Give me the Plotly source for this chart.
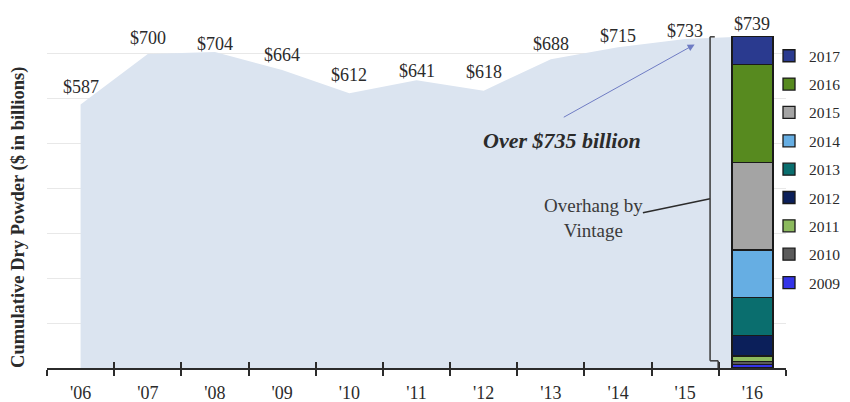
import plotly.graph_objects as go

# ---- data ----
years = ["'06", "'07", "'08", "'09", "'10", "'11", "'12", "'13", "'14", "'15", "'16"]
dry_powder = [587, 700, 704, 664, 612, 641, 618, 688, 715, 733, 739]
value_labels = ["$587", "$700", "$704", "$664", "$612", "$641", "$618", "$688", "$715", "$733", "$739"]

vintages = ["2009", "2010", "2011", "2012", "2013", "2014", "2015", "2016", "2017"]
vintage_values = [8, 7, 12, 45, 85, 106, 195, 219, 62]
vintage_colors = ["#3434e8", "#5a5a5a", "#8cba5e", "#0b1f5a", "#0a6e6e",
                  "#66aee3", "#a4a4a4", "#578a1f", "#2a3a8f"]
label_dy = [18, 16, 8, 15, 18, 9, 19, 15, 11, 8, 12]

FONT = "Liberation Serif"
TXT = "#2b2b2b"

fig = go.Figure()

# area of cumulative dry powder (base subplot)
fig.add_trace(go.Scatter(
    x=years, y=dry_powder, mode="none", fill="tozeroy",
    fillcolor="#dbe4f0", showlegend=False, hoverinfo="skip"))

# stacked vintage bar at the last year (overlaid subplot, drawn above area)
n = len(vintages)
for i, (name, val, col) in enumerate(zip(vintages, vintage_values, vintage_colors)):
    fig.add_trace(go.Bar(
        x=[years[-1]], y=[val], name=name, marker_color=col,
        marker_line=dict(color="#1a1a1a", width=1.3), width=0.61,
        legendgroup=name, legendrank=n - i, xaxis="x2"))

# value labels
for x, v, t, dy in zip(years, dry_powder, value_labels, label_dy):
    fig.add_annotation(x=x, y=v, text=t, showarrow=False, yshift=dy,
                       font=dict(family=FONT, size=18, color=TXT))

# "Over $735 billion" with arrow
fig.add_annotation(x=7.16, y=506, text="<b><i>Over $735 billion</i></b>",
                   showarrow=False, font=dict(family=FONT, size=22, color=TXT))
fig.add_annotation(x=9.14, y=721, ax=7.17, ay=557, axref="x", ayref="y",
                   text="", showarrow=True, arrowhead=2, arrowsize=1.4,
                   arrowwidth=1, arrowcolor="#6f7cc4")

# "Overhang by Vintage"
fig.add_annotation(x=7.63, y=334, text="Overhang by<br>Vintage", showarrow=False,
                   font=dict(family=FONT, size=19, color="#3a3a3a"))
fig.add_shape(type="line", x0=8.37, y0=346, x1=9.37, y1=377,
              line=dict(color="#2b2b2b", width=1.5), layer="above")

# bracket
br = dict(color="#3a3a3a", width=1.5)
fig.add_shape(type="line", x0=9.37, y0=738, x1=9.44, y1=738, line=br)
fig.add_shape(type="line", x0=9.37, y0=738, x1=9.37, y1=16, line=br)
fig.add_shape(type="line", x0=9.37, y0=16, x1=9.49, y1=16, line=br)
fig.add_shape(type="line", x0=9.49, y0=16, x1=9.49, y1=0, line=br)

# y-axis title
fig.add_annotation(xref="paper", yref="paper", x=0, y=0.418, xshift=-28,
                   xanchor="center", yanchor="middle",
                   text="<b>Cumulative Dry Powder ($ in billions)</b>",
                   textangle=-90, showarrow=False,
                   font=dict(family=FONT, size=18.5, color=TXT))

fig.update_layout(
    width=850, height=402,
    margin=dict(l=39, r=72, t=1, b=42, autoexpand=False),
    plot_bgcolor="white", paper_bgcolor="white",
    barmode="stack",
    font=dict(family=FONT, color=TXT),
    xaxis=dict(type="category", categoryorder="array", categoryarray=years,
               range=[-0.5, 10.5], showgrid=False, showline=True,
               linecolor="#2b2b2b", linewidth=1.5, ticks="outside", ticklen=6,
               tickwidth=1.5, tickcolor="#2b2b2b", tickson="boundaries",
               ticklabelstandoff=8,
               tickfont=dict(family=FONT, size=18, color=TXT), zeroline=False),
    xaxis2=dict(type="category", categoryorder="array", categoryarray=years,
                overlaying="x", matches="x", anchor="y", side="bottom",
                showgrid=False, showline=False, ticks="inside", ticklen=6,
                tickwidth=1.5, tickcolor="#2b2b2b", tickson="boundaries",
                showticklabels=False, zeroline=False),
    yaxis=dict(range=[0, 800], dtick=100, showticklabels=False,
               showgrid=True, gridcolor="#e8e8e8", gridwidth=1,
               zeroline=False, showline=False),
    legend=dict(traceorder="grouped", tracegroupgap=5.2,
                x=0.977, xanchor="left", y=0.916, yanchor="top",
                font=dict(family=FONT, size=15.5, color=TXT),
                bgcolor="rgba(0,0,0,0)", itemclick=False),
    showlegend=True,
)

fig.write_html("out.html")
